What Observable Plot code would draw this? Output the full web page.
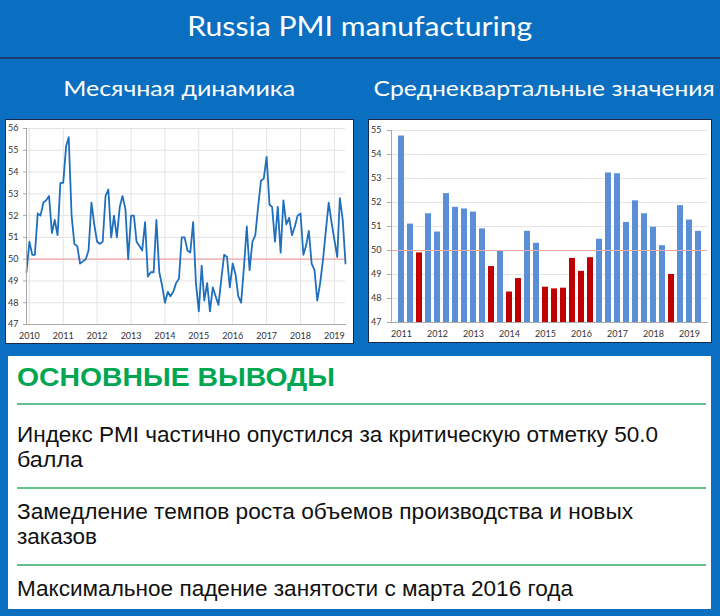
<!DOCTYPE html>
<html>
<head>
<meta charset="utf-8">
<script src="https://cdn.jsdelivr.net/npm/d3@7"></script>
<script src="https://cdn.jsdelivr.net/npm/@observablehq/plot@0.6"></script>
<style>
  html, body { margin: 0; padding: 0; background: #0b6fc1; }
  #root { position: relative; width: 720px; height: 616px; background: #0b6fc1; overflow: hidden; font-family: Lato, "Open Sans", sans-serif; }
  .abs { position: absolute; white-space: nowrap; }
  .fit { display: inline-block; transform-origin: left center; }
  .center { text-align: center; }
  .panel { position: absolute; background: #fff; border: 1px solid #1a2a48; box-sizing: border-box; }
  #box { position: absolute; left: 8px; top: 356px; width: 703px; height: 253px; background: #fff; font-family: "Liberation Sans Narrow", "Liberation Sans", Arial, sans-serif; }
  .rule { position: absolute; left: 9px; width: 689px; height: 2px; background: #62c08f; }
  .txt { position: absolute; left: 9px; font-size: 22px; line-height: 25px; color: #111; white-space: nowrap; }
</style>
</head>
<body>
<div id="root">
  <div class="abs center" style="left:0;top:11px;width:720px;color:#fff;font-size:26px;line-height:30px;"><span class="fit" data-w="345" style="transform-origin:center">Russia PMI manufacturing</span></div>
  <div class="abs" style="left:0;top:57px;width:720px;height:2px;background:#1d3b72;"></div>
  <div class="abs center" style="left:29px;top:74px;width:300px;color:#fff;font-size:22px;line-height:28px;"><span class="fit" data-w="232" style="transform-origin:center">Месячная динамика</span></div>
  <div class="abs center" style="left:392px;top:74px;width:300px;color:#fff;font-size:22px;line-height:28px;"><span class="fit" data-w="341" style="transform-origin:center">Среднеквартальные значения</span></div>

  <div id="left" class="panel" style="left:5px;top:119px;width:349px;height:225px;"></div>
  <div id="right" class="panel" style="left:368px;top:119px;width:344px;height:224px;"></div>

  <div id="box">
    <div class="txt" style="top:7px;font-size:25px;line-height:29px;font-weight:bold;color:#00a651;"><span class="fit" data-w="318">ОСНОВНЫЕ ВЫВОДЫ</span></div>
    <div class="rule" style="top:47px;"></div>
    <div class="txt" style="top:66px;"><span class="fit" data-w="641">Индекс PMI частично опустился за критическую отметку 50.0</span><br><span class="fit" data-w="66">балла</span></div>
    <div class="rule" style="top:131px;"></div>
    <div class="txt" style="top:143px;"><span class="fit" data-w="616">Замедление темпов роста объемов производства и новых</span><br><span class="fit" data-w="80">заказов</span></div>
    <div class="rule" style="top:208px;"></div>
    <div class="txt" style="top:220px;"><span class="fit" data-w="556">Максимальное падение занятости с марта 2016 года</span></div>
  </div>
</div>
<script>
// ---- Monthly PMI, Dec 2009 .. May 2019 ----
const monthlyStart = "2009-12-01";
const monthlyValues = [
  49.4,
  50.8, 50.2, 50.2, 52.1, 52.0, 52.6, 52.7, 52.9, 51.2, 51.8, 51.1, 53.5,
  53.5, 55.2, 55.6, 52.0, 50.7, 50.6, 49.8, 49.9, 50.0, 50.4, 52.6, 51.6,
  50.8, 50.7, 50.8, 52.9, 53.2, 51.0, 52.0, 51.0, 52.4, 52.9, 52.3, 50.0,
  52.0, 52.0, 50.8, 50.6, 50.4, 51.7, 49.2, 49.4, 49.4, 51.8, 49.4, 48.8,
  48.0, 48.5, 48.3, 48.5, 48.9, 49.1, 51.0, 51.0, 50.4, 50.3, 51.7, 48.9,
  47.6, 49.7, 48.1, 48.9, 47.6, 48.7, 48.3, 47.9, 49.1, 50.2, 50.1, 48.7,
  49.8, 49.3, 48.3, 48.0, 49.6, 51.5, 49.5, 50.8, 51.1, 52.4, 53.6, 53.7,
  54.7, 52.5, 52.4, 50.8, 52.4, 50.3, 52.7, 51.6, 51.9, 51.1, 51.5, 52.0,
  52.1, 50.2, 50.6, 51.3, 49.8, 49.5, 48.1, 48.9, 50.0, 51.3, 52.6, 51.7,
  50.9, 50.1, 52.8, 51.8, 49.8
];
const monthlyYTicks = [47, 48, 49, 50, 51, 52, 53, 54, 55, 56];
const monthlyYearTicks = [2010, 2011, 2012, 2013, 2014, 2015, 2016, 2017, 2018, 2019];

// ---- Quarterly averages, Q1 2011 .. Q2 2019 ----
const quarterYears = [2011, 2012, 2013, 2014, 2015, 2016, 2017, 2018, 2019];
const quarterlyValues = [
  54.77, 51.10, 49.90, 51.53,
  50.77, 52.37, 51.80, 51.73,
  51.60, 50.90, 49.33, 50.00,
  48.27, 48.83, 50.80, 50.30,
  48.47, 48.40, 48.43, 49.67,
  49.13, 49.70, 50.47, 53.23,
  53.20, 51.17, 52.07, 51.53,
  50.97, 50.20, 49.00, 51.87,
  51.27, 50.80
];
const quarterlyYTicks = [47, 48, 49, 50, 51, 52, 53, 54, 55];
const threshold = 50;

const lineColor = "#1f6fbd";
const barBlue = "#5a8fd6";
const barRed = "#c00000";
const thresholdColor = "#f2a6a6";
const gridColor = "#e4e4e4";
const axisColor = "#a9a9a9";
const labelColor = "#333333";

const monthly = monthlyValues.map((v, i) => ({date: d3.utcMonth.offset(new Date(monthlyStart), i), value: v}));
const yearDates = monthlyYearTicks.map(y => new Date(Date.UTC(y, 0, 1)));

const quarterLabels = [];
quarterYears.forEach(y => [1, 2, 3, 4].forEach(q => quarterLabels.push(`${y} Q${q}`)));
const quarterly = quarterlyValues.map((v, i) => ({q: quarterLabels[i], value: v}));

const leftPlot = Plot.plot({
  width: 347, height: 223,
  marginLeft: 20, marginRight: 8, marginTop: 8, marginBottom: 19,
  style: {background: "white", fontFamily: "Lato, sans-serif", fontSize: "9px", color: labelColor, overflow: "visible"},
  x: {type: "utc", domain: [monthly[0].date, monthly[monthly.length - 1].date], label: null},
  y: {domain: [47, 56], label: null},
  marks: [
    Plot.gridX(yearDates, {stroke: gridColor, strokeOpacity: 1}),
    Plot.gridY(monthlyYTicks, {stroke: gridColor, strokeOpacity: 1}),
    Plot.ruleY([threshold], {stroke: thresholdColor, strokeWidth: 1.2}),
    Plot.line(monthly, {x: "date", y: "value", stroke: lineColor, strokeWidth: 1.8, strokeLinejoin: "round"}),
    Plot.frame({anchor: "left", stroke: axisColor}),
    Plot.frame({anchor: "bottom", stroke: axisColor}),
    Plot.axisY({ticks: monthlyYTicks, tickSize: 3, tickPadding: 5, stroke: axisColor, fill: labelColor, label: null}),
    Plot.axisX({ticks: yearDates, tickSize: 0, tickPadding: 8, tickFormat: d => String(d.getUTCFullYear()), fill: labelColor, label: null})
  ]
});
document.getElementById("left").appendChild(leftPlot);

const rightPlot = Plot.plot({
  width: 342, height: 222,
  marginLeft: 22, marginRight: 4, marginTop: 10, marginBottom: 20,
  style: {background: "white", fontFamily: "Lato, sans-serif", fontSize: "9px", color: labelColor, overflow: "visible"},
  x: {type: "band", domain: quarterLabels.slice(0, quarterly.length), paddingInner: 0.36, paddingOuter: 0.12, label: null},
  y: {domain: [47, 55], label: null},
  marks: [
    Plot.gridY(quarterlyYTicks, {stroke: gridColor, strokeOpacity: 1}),
    Plot.barY(quarterly, {x: "q", y1: () => 47, y2: "value", fill: d => d.value < threshold ? barRed : barBlue}),
    Plot.ruleY([threshold], {stroke: thresholdColor, strokeWidth: 1.2}),
    Plot.frame({anchor: "left", stroke: axisColor}),
    Plot.frame({anchor: "bottom", stroke: axisColor}),
    Plot.axisY({ticks: quarterlyYTicks, tickSize: 4, tickPadding: 6, stroke: axisColor, fill: labelColor, label: null}),
    Plot.axisX({ticks: quarterLabels.filter(q => q.endsWith("Q1")), tickSize: 0, tickPadding: 8, tickFormat: q => q.slice(0, 4), fill: labelColor, label: null})
  ]
});
document.getElementById("right").appendChild(rightPlot);

function fitAll() {
  document.querySelectorAll(".fit").forEach(el => {
    el.style.transform = "none";
    const w = el.getBoundingClientRect().width;
    const target = +el.dataset.w;
    if (w > 0) el.style.transform = `scaleX(${target / w})`;
  });
}
fitAll();
if (document.fonts && document.fonts.ready) document.fonts.ready.then(fitAll);
</script>
</body>
</html>
